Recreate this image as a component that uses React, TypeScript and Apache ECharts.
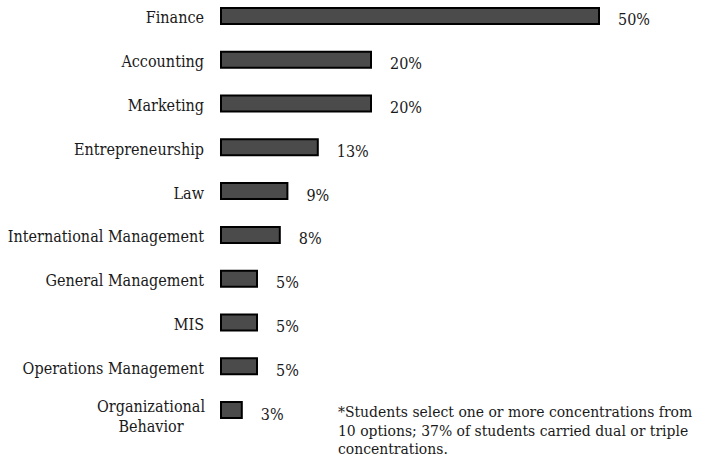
import React, { useEffect, useRef } from "react";
import * as echarts from "echarts";

const categories = [
  "Finance",
  "Accounting",
  "Marketing",
  "Entrepreneurship",
  "Law",
  "International Management",
  "General Management",
  "MIS",
  "Operations Management",
  "Organizational\nBehavior",
];
const shares = [50, 20, 20, 13, 9, 8, 5, 5, 5, 3];
const footnote =
  "*Students select one or more concentrations from\n10 options; 37% of students carried dual or triple\nconcentrations.";

const SERIF = "DejaVu Serif Condensed, DejaVu Serif, serif";

export default function App() {
  const ref = useRef<HTMLDivElement>(null);

  useEffect(() => {
    if (!ref.current) return;
    const chart = echarts.init(ref.current, null, { renderer: "svg" });
    chart.setOption({
      animation: false,
      backgroundColor: "#ffffff",
      grid: {
        left: 220,
        right: 38,
        top: 0,
        height: 438,
        containLabel: false,
        outerBoundsMode: "none",
      },
      xAxis: { type: "value", min: 0, max: 60, show: false },
      yAxis: {
        type: "category",
        data: categories,
        inverse: true,
        axisLine: { show: false },
        axisTick: { show: false },
        axisLabel: {
          margin: 16,
          fontFamily: SERIF,
          fontSize: 16,
          color: "#1a1a1a",
          padding: [4, 0, 0, 0],
          formatter: (v: string) => (v.includes("\n") ? `{c|${v}}` : v),
          rich: {
            c: {
              width: 106,
              align: "center",
              fontFamily: SERIF,
              fontSize: 16,
              lineHeight: 20,
              color: "#1a1a1a",
              padding: [8, 0, 0, 0],
            },
          },
        },
      },
      series: [
        {
          type: "bar",
          data: shares,
          barWidth: 18,
          itemStyle: { color: "#4b4b4b", borderColor: "#000000", borderWidth: 2 },
          label: {
            show: true,
            position: "right",
            distance: 18,
            offset: [0, 4],
            formatter: "{c}%",
            fontFamily: SERIF,
            fontSize: 16,
            color: "#1a1a1a",
          },
        },
      ],
      graphic: [
        {
          type: "text",
          left: 338,
          top: 409,
          style: {
            text: footnote,
            fontFamily: SERIF,
            fontSize: 15.5,
            lineHeight: 18.5,
            fill: "#1a1a1a",
          },
        },
      ],
    });
    return () => chart.dispose();
  }, []);

  return (
    <div
      ref={ref}
      style={{ position: "absolute", left: 0, top: -6, width: 714, height: 469 }}
    />
  );
}
